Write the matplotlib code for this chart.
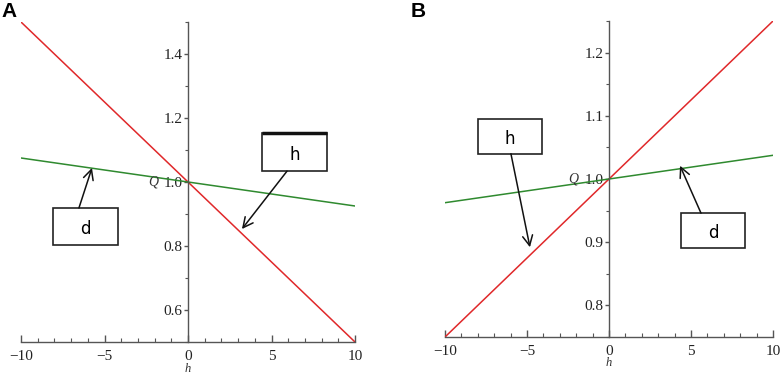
import matplotlib
matplotlib.use("Agg")
import matplotlib.pyplot as plt
import numpy as np
from matplotlib.patches import Rectangle
from matplotlib.ticker import MultipleLocator

# ---- data ----
h_range = [-10, 10]
# Panel A
A_red_Q = [1.5, 0.5]        # Q at h=-10, h=10
A_green_Q = [1.075, 0.925]
A_ylim = [0.5, 1.5]
A_yticks = [0.6, 0.8, 1.0, 1.2, 1.4]
# Panel B
B_red_Q = [0.75, 1.25]
B_green_Q = [0.9625, 1.0375]
B_ylim = [0.75, 1.25]
B_yticks = [0.8, 0.9, 1.0, 1.1, 1.2]
xticks = [-10, -5, 0, 5, 10]
xtick_labels = ["\u221210", "\u22125", "0", "5", "10"]

serif = "Liberation Serif"
axis_col = "#555555"
red = "#e0282a"
green = "#2f8a2f"

fig = plt.figure(figsize=(7.82, 3.75), dpi=100)
W, H = 782, 375

def make_ax(x0, x1, y0, y1):
    return fig.add_axes([x0 / W, 1 - y1 / H, (x1 - x0) / W, (y1 - y0) / H])

def style(ax, ylim, yticks, ymaj, ymin):
    ax.set_xlim(h_range)
    ax.set_ylim(ylim)
    for s in ["top", "right"]:
        ax.spines[s].set_visible(False)
    ax.spines["left"].set_position(("data", 0))
    for s in ["left", "bottom"]:
        ax.spines[s].set_color(axis_col)
        ax.spines[s].set_linewidth(1.0)
    ax.set_xticks(xticks)
    ax.set_xticklabels(xtick_labels)
    ax.xaxis.set_minor_locator(MultipleLocator(1))
    ax.set_yticks(yticks)
    ax.set_yticklabels(["%.1f" % v for v in yticks])
    ax.yaxis.set_minor_locator(MultipleLocator(ymin))
    ax.tick_params(axis="x", which="major", direction="in", length=5, width=1, color=axis_col, pad=6)
    ax.tick_params(axis="x", which="minor", direction="in", length=3, width=0.8, color=axis_col)
    ax.tick_params(axis="y", which="major", direction="out", length=3, width=1, color=axis_col, pad=1)
    ax.tick_params(axis="y", which="minor", direction="out", length=2, width=0.8, color=axis_col)
    for lab in ax.get_xticklabels() + ax.get_yticklabels():
        lab.set_fontfamily(serif)
        lab.set_fontsize(11)
        lab.set_color("#222222")
    ax.set_facecolor("none")
    ax.patch.set_visible(False)

def box(ax, x0, x1, y0, y1, label, thick_top=False):
    ax.add_patch(Rectangle((x0, y0), x1 - x0, y1 - y0, fill=True, facecolor="white",
                           edgecolor="#222222", lw=1.2, zorder=5))
    if thick_top:
        ax.plot([x0, x1], [y1, y1], color="#111111", lw=2.5, zorder=6, solid_capstyle="butt")
    ax.text((x0 + x1) / 2, (y0 + y1) / 2 - (y1 - y0) * 0.08, label, ha="center", va="center",
            fontsize=12, family="DejaVu Sans", zorder=7)

def arrow(ax, start, end):
    ax.annotate("", xy=end, xytext=start,
                arrowprops=dict(arrowstyle="->", color="#111111", lw=1.1,
                                mutation_scale=18, shrinkA=0, shrinkB=0), zorder=8)

# Panel A
axA = make_ax(21, 355, 22, 342)
style(axA, A_ylim, A_yticks, 0.2, 0.1)
axA.plot(h_range, A_red_Q, color=red, lw=1.1)
axA.plot(h_range, A_green_Q, color=green, lw=1.1)
box(axA, 4.43, 8.32, 1.034, 1.153, "h", thick_top=True)
arrow(axA, (5.93, 1.034), (3.23, 0.853))
box(axA, -8.08, -4.19, 0.803, 0.919, "d")
arrow(axA, (-6.53, 0.919), (-5.75, 1.044))
axA.text(-1.8, 1.0, "Q", family=serif, style="italic", fontsize=10, ha="right", va="center", color="#333333")
fig.text(188 / W, 1 - 375 / H, "h", family=serif, style="italic",
         fontsize=9, ha="center", va="bottom", color="#333333")

# Panel B
axB = make_ax(445, 773, 21, 337)
style(axB, B_ylim, B_yticks, 0.1, 0.05)
axB.plot(h_range, B_red_Q, color=red, lw=1.1)
axB.plot(h_range, B_green_Q, color=green, lw=1.1)
box(axB, -7.99, -4.09, 1.040, 1.095, "h")
arrow(axB, (-5.98, 1.040), (-4.82, 0.892))
box(axB, 4.39, 8.29, 0.891, 0.946, "d")
arrow(axB, (5.61, 0.946), (4.33, 1.021))
axB.text(-1.9, 1.0, "Q", family=serif, style="italic", fontsize=10, ha="right", va="center", color="#333333")
fig.text(609 / W, 1 - 369 / H, "h", family=serif, style="italic",
         fontsize=9, ha="center", va="bottom", color="#333333")

fig.text(1 / W, 1 - 2 / H, "A", fontsize=15, fontweight="bold", family="Liberation Sans", va="top", ha="left")
fig.text(411 / W, 1 - 2 / H, "B", fontsize=15, fontweight="bold", family="Liberation Sans", va="top", ha="left")

fig.savefig("out.png", dpi=100)
